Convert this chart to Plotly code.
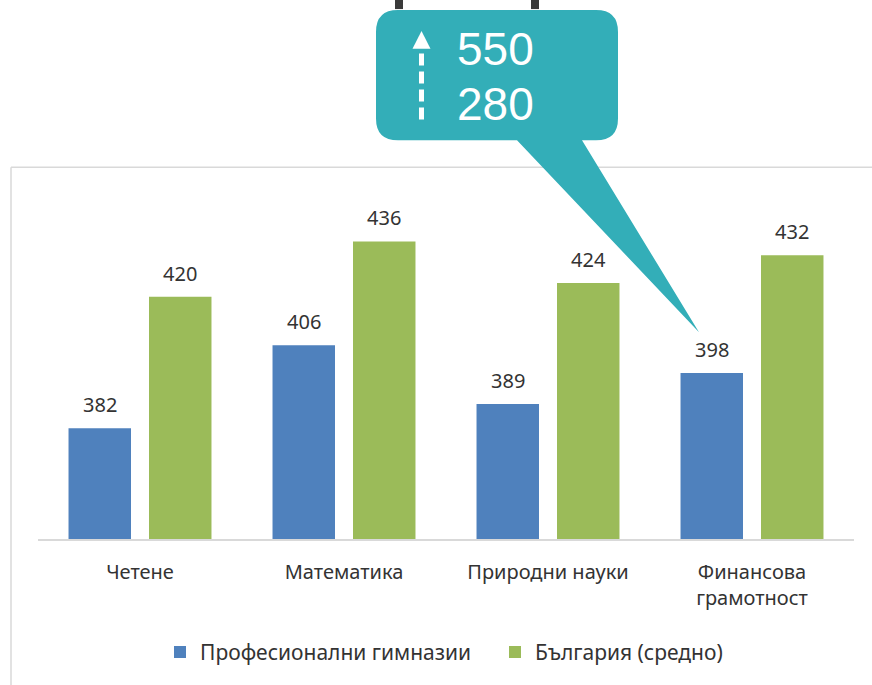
import plotly.graph_objects as go

categories = ["Четене", "Математика", "Природни науки", "Финансова<br>грамотност"]
series_names = ["Професионални гимназии", "България (средно)"]
prof_values = [382, 406, 389, 398]
bg_values = [420, 436, 424, 432]
callout_lines = ["550", "280"]

W, H = 872, 685
L, R, T, B = 38, 854, 193, 541
FONT = "Noto Sans"


def px(x):
    return (x - L) / (R - L)


def py(y):
    return (B - y) / (B - T)


fig = go.Figure()
fig.add_trace(go.Bar(
    x=categories, y=prof_values, name=series_names[0],
    marker=dict(color="#4F81BD", line=dict(width=0)),
))
fig.add_trace(go.Bar(
    x=categories, y=bg_values, name=series_names[1],
    marker=dict(color="#9BBB59", line=dict(width=0)),
))

annotations = []
for vals, shift in ((prof_values, -40.25), (bg_values, 40.25)):
    for c, v in zip(categories, vals):
        annotations.append(dict(
            x=c, y=v, xref="x", yref="y", text=str(v), showarrow=False,
            xanchor="center", yanchor="bottom", xshift=shift, yshift=8,
            font=dict(size=20, color="#333333", family=FONT),
        ))

shapes = []
# chart border (top and left)
shapes.append(dict(type="line", xref="paper", yref="paper",
                   x0=px(11), x1=px(W + 5), y0=py(167), y1=py(167),
                   line=dict(color="#D9D9D9", width=1.5)))
shapes.append(dict(type="line", xref="paper", yref="paper",
                   x0=px(11), x1=px(11), y0=py(167), y1=py(H + 5),
                   line=dict(color="#D9D9D9", width=1.5)))


def P(x, y):
    return f"{px(x):.5f},{py(y):.5f}"


# callout path
x0, x1, y0, y1, r = 376, 618, 9, 140, 22
tail_a, tail_b, tip = 517, 582, (699, 333)
path = (
    f"M {P(x0 + r, y0)} L {P(x1 - r, y0)} Q {P(x1, y0)} {P(x1, y0 + r)} "
    f"L {P(x1, y1 - r)} Q {P(x1, y1)} {P(x1 - r, y1)} "
    f"L {P(tail_b, y1)} L {P(*tip)} L {P(tail_a, y1)} "
    f"L {P(x0 + r, y1)} Q {P(x0, y1)} {P(x0, y1 - r)} "
    f"L {P(x0, y0 + r)} Q {P(x0, y0)} {P(x0 + r, y0)} Z"
)
shapes.append(dict(type="path", xref="paper", yref="paper", path=path,
                   fillcolor="#33AEB8", line=dict(width=0)))

# dashed arrow inside callout
shapes.append(dict(type="line", xref="paper", yref="paper",
                   x0=px(421.5), x1=px(421.5), y0=py(119), y1=py(49),
                   line=dict(color="white", width=5, dash="12px,6px")))
tri = f"M {P(412.5, 48)} L {P(430.5, 48)} L {P(421.5, 30)} Z"
shapes.append(dict(type="path", xref="paper", yref="paper", path=tri,
                   fillcolor="white", line=dict(width=0)))

# cut-off dark glyph fragments at the very top
for gx in (395, 531):
    shapes.append(dict(type="rect", xref="paper", yref="paper",
                       x0=px(gx), x1=px(gx + 8), y0=py(8), y1=py(-5),
                       fillcolor="#3A3A3A", line=dict(width=0)))

for i, t in enumerate(callout_lines):
    annotations.append(dict(
        xref="paper", yref="paper", x=px(455), y=py(48 + i * 55),
        xanchor="left", yanchor="middle", text=t, showarrow=False,
        font=dict(size=46, color="white", family="Liberation Sans"),
    ))

fig.update_layout(
    width=W, height=H,
    margin=dict(l=L, r=W - R, t=T, b=H - B, pad=0),
    paper_bgcolor="white", plot_bgcolor="white",
    barmode="group", bargap=0.211, bargroupgap=0.2236,
    font=dict(family=FONT, color="#333333", size=20),
    xaxis=dict(showline=True, linecolor="#D9D9D9", linewidth=1.5,
               showgrid=False, ticks="", ticklabelstandoff=14,
               tickfont=dict(size=20, color="#333333", family=FONT)),
    yaxis=dict(range=[350, 450], visible=False, showgrid=False),
    legend=dict(orientation="h", xanchor="center", x=px(495),
                yanchor="middle", y=py(655),
                font=dict(size=21, color="#333333", family=FONT),
                itemwidth=30, entrywidth=290, traceorder="normal"),
    shapes=shapes, annotations=annotations,
    showlegend=True,
)

fig.write_html(
    "out.html",
    config={"displayModeBar": False},
    post_script="document.body.style.margin='0px';document.body.style.overflow='hidden';",
)
